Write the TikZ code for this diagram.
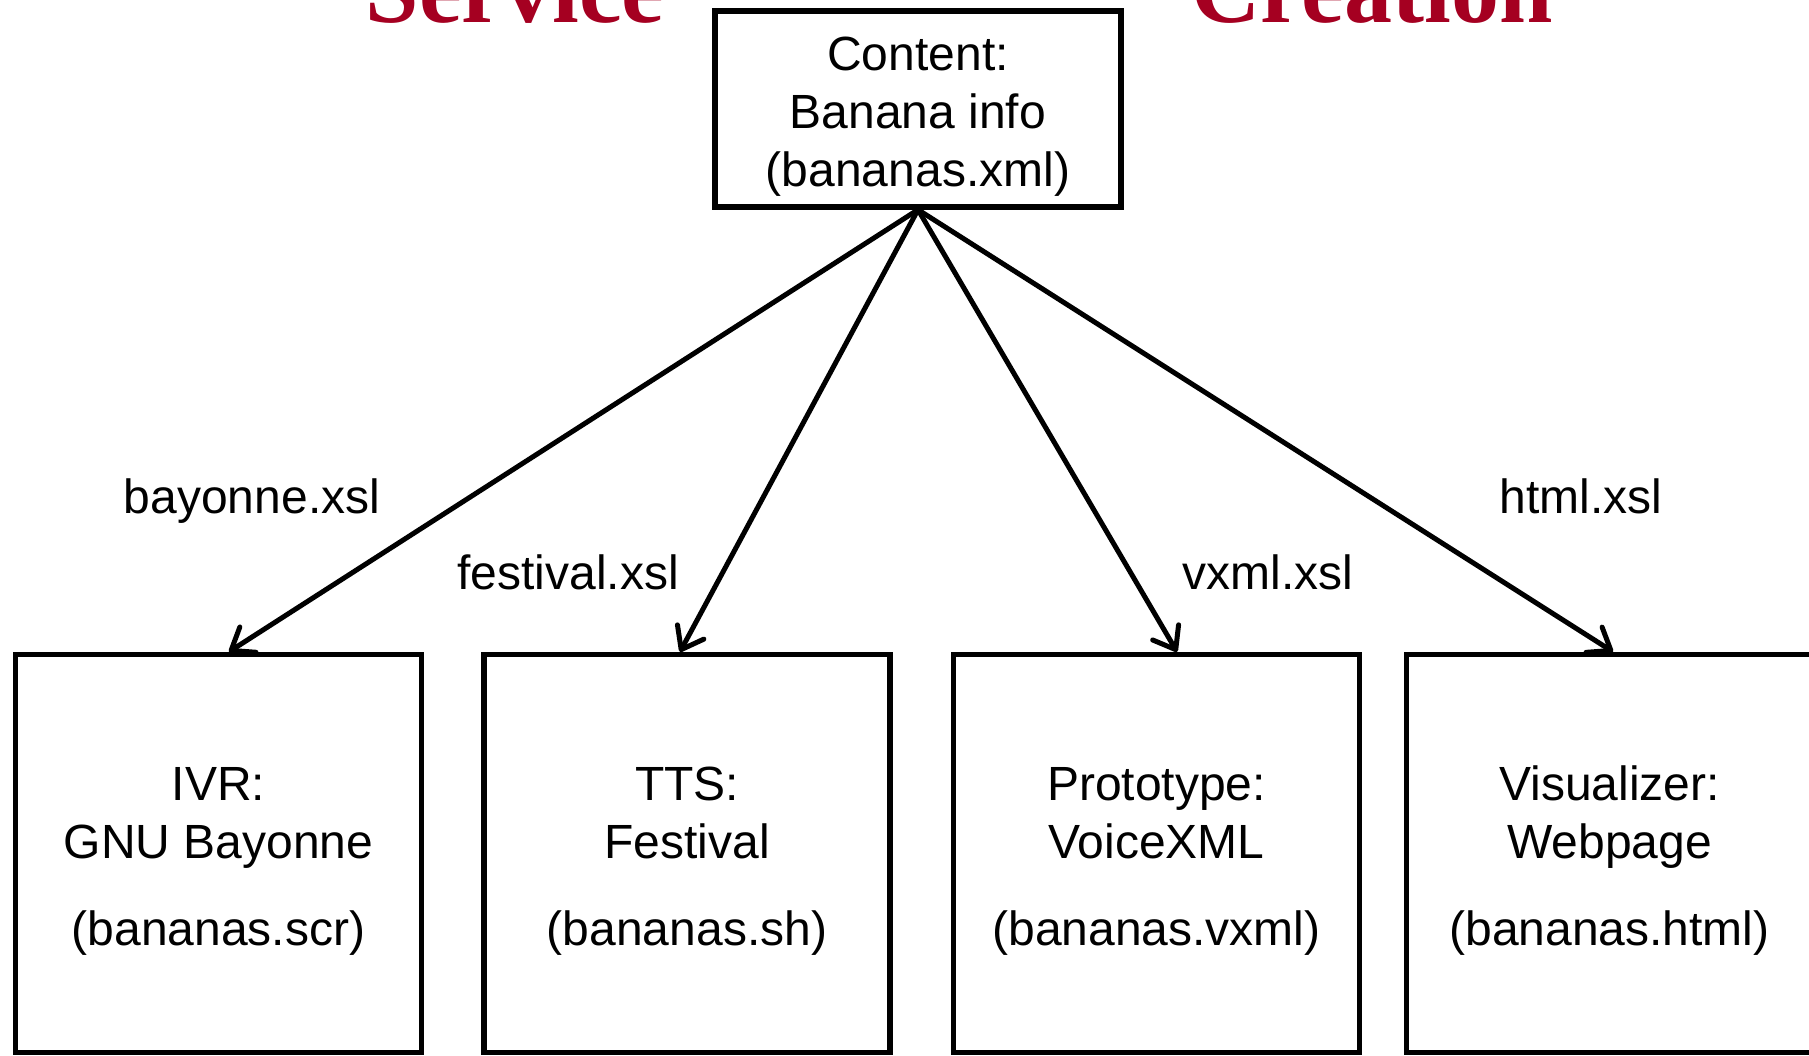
\documentclass[tikz,border=0pt]{standalone}
\usepackage{fontspec}
\setmainfont{Liberation Sans}
\newfontfamily\titlefont{Liberation Serif}
\usetikzlibrary{arrows.meta}
\pgfdeclarelayer{bg}
\pgfsetlayers{bg,main}
\definecolor{titlered}{HTML}{A50021}
\newcommand\toppad{\rule{0pt}{24.5pt}}
\tikzset{
  filebox/.style={draw,line width=2.7pt,align=center,inner sep=0pt,
    minimum width=203pt,minimum height=199pt,font=\fontsize{24}{28.8}\selectfont},
  xsl/.style={font=\fontsize{24}{28.8}\selectfont},
  feed/.style={line width=2.5pt,-{Straight Barb[length=10pt,width=15pt,round]}},
  banner/.style={anchor=base,text=titlered,font=\titlefont\bfseries\fontsize{48}{48}\selectfont}
}
\begin{document}
\begin{tikzpicture}[x=0.5pt,y=-0.5pt]
\useasboundingbox (0,0) rectangle (1809,1055);
\begin{pgfonlayer}{bg}
  \node[banner] (svc) at (515,22) {Service};
  \node[banner] (crt) at (1372,22) {Creation};
\end{pgfonlayer}
\node[filebox,minimum height=98pt] (xml) at (918,109) {\toppad Content:\\Banana info\\(bananas.xml)};
\node[filebox] (scr) at (218.5,853.5) {\toppad IVR:\\GNU Bayonne\\[15pt](bananas.scr)};
\node[filebox] (sh) at (687,853.5) {\toppad TTS:\\Festival\\[15pt](bananas.sh)};
\node[filebox] (vxml) at (1156.5,853.5) {\toppad Prototype:\\VoiceXML\\[15pt](bananas.vxml)};
\node[filebox] (html) at (1609.5,853.5) {\toppad Visualizer:\\Webpage\\[15pt](bananas.html)};
\draw[feed] (xml.south) -- ([xshift=5.25pt]scr.north);
\draw[feed] (xml.south) -- ([xshift=-3.5pt]sh.north);
\draw[feed] (xml.south) -- ([xshift=10.25pt]vxml.north);
\draw[feed] (xml.south) -- ([xshift=1.75pt]html.north);
\node[xsl] (bxsl) at (252,501) {bayonne.xsl};
\node[xsl] (fxsl) at (568,572) {festival.xsl};
\node[xsl] (vxsl) at (1268,572) {vxml.xsl};
\node[xsl] (hxsl) at (1581,496) {html.xsl};
\end{tikzpicture}
\end{document}
